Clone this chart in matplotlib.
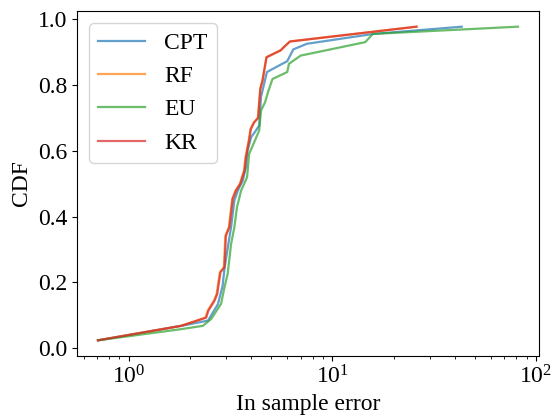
import matplotlib
matplotlib.use('Agg')
import matplotlib.pyplot as plt

plt.rcParams['font.family'] = ['Liberation Serif', 'DejaVu Serif']
plt.rcParams['mathtext.fontset'] = 'stix'
plt.rcParams['font.size'] = 17

# CDF curves: (error, cdf)
cpt_x = [0.706, 1.81, 2.45, 2.74, 2.89, 2.95, 3.12, 3.18, 3.30, 3.43, 3.63, 3.76, 3.83,
         3.99, 4.21, 4.37, 4.46, 4.62, 4.77, 5.67, 6.0, 6.43, 7.5, 15.9, 43.2]
cpt_y = [0.024, 0.068, 0.084, 0.134, 0.19, 0.241, 0.337, 0.368, 0.449, 0.479, 0.51, 0.55, 0.60,
         0.642, 0.662, 0.677, 0.764, 0.804, 0.84, 0.865, 0.873, 0.909, 0.926, 0.956, 0.978]

rf_x = [0.706, 1.80, 2.38, 2.44, 2.62, 2.70, 2.80, 2.93, 2.98, 3.10, 3.22, 3.34, 3.51, 3.68,
        3.74, 3.88, 3.96, 4.11, 4.30, 4.42, 4.53, 4.74, 5.57, 5.78, 6.19, 25.9]
rf_y = [0.024, 0.068, 0.093, 0.114, 0.145, 0.165, 0.231, 0.246, 0.342, 0.368, 0.454, 0.479,
        0.50, 0.54, 0.58, 0.632, 0.667, 0.687, 0.70, 0.789, 0.814, 0.885, 0.906, 0.916, 0.933, 0.978]

eu_x = [0.706, 1.81, 2.31, 2.54, 2.84, 2.95, 3.06, 3.18, 3.30, 3.40, 3.56, 3.81, 3.90, 4.10,
        4.37, 4.46, 4.67, 4.83, 5.08, 6.0, 6.12, 6.98, 14.5, 15.8, 81.6]
eu_y = [0.024, 0.058, 0.068, 0.089, 0.135, 0.185, 0.226, 0.317, 0.368, 0.429, 0.479, 0.52,
        0.591, 0.622, 0.662, 0.723, 0.748, 0.779, 0.819, 0.84, 0.865, 0.89, 0.931, 0.956, 0.978]

kr_x = [0.706, 1.81, 2.40, 2.46, 2.64, 2.72, 2.82, 2.95, 3.00, 3.12, 3.24, 3.36, 3.53, 3.70,
        3.76, 3.90, 3.98, 4.13, 4.32, 4.43, 4.54, 4.75, 5.57, 5.78, 6.19, 25.9]
kr_y = [0.024, 0.068, 0.093, 0.114, 0.145, 0.165, 0.231, 0.246, 0.342, 0.368, 0.454, 0.479,
        0.50, 0.54, 0.58, 0.632, 0.667, 0.687, 0.70, 0.789, 0.814, 0.885, 0.906, 0.916, 0.933, 0.978]

series = [('CPT', cpt_x, cpt_y), ('RF', rf_x, rf_y), ('EU', eu_x, eu_y), ('KR', kr_x, kr_y)]

fig = plt.figure(figsize=(5.54, 4.17), dpi=100)
ax = fig.add_axes([77/554, 1 - 356/417, (539 - 77)/554, (356 - 11)/417])

for name, xs, ys in series:
    ax.plot(xs, ys, label=name, alpha=0.7, lw=1.6)

ax.set_xscale('log')
ax.set_xlabel('In sample error')
ax.set_ylabel('CDF')
ax.legend(loc='upper left')

fig.savefig('out.png', dpi=100)
plt.close(fig)
